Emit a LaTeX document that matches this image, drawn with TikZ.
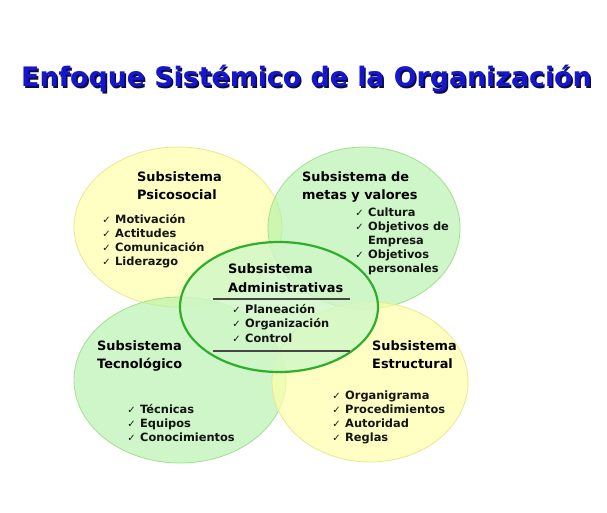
\documentclass[tikz,border=0pt]{standalone}
\usepackage{fontspec}
\setmainfont{DejaVu Sans}
\newfontfamily\checkfont{DejaVu Sans}
\definecolor{titleblue}{RGB}{22,22,205}
\definecolor{titleshade}{RGB}{10,10,70}
\definecolor{yelfill}{RGB}{255,255,170}
\definecolor{yelline}{RGB}{232,232,140}
\definecolor{grnfill}{RGB}{175,240,165}
\definecolor{grnline}{RGB}{160,225,140}
\definecolor{ctrfill}{RGB}{208,247,198}
\definecolor{ctrline}{RGB}{45,175,45}
\definecolor{rulegray}{RGB}{70,70,70}
\newcommand{\chk}{\llap{{\checkfont\fontsize{10}{10}\selectfont ✓}\hspace{4.5pt}}}
\newcommand{\shadowed}[1]{\rlap{\raisebox{-1.6pt}{\kern1.6pt\color{titleshade}#1}}#1}
\tikzset{
  yelblob/.style={fill=yelfill,fill opacity=0.7,draw=yelline,line width=0.8pt},
  grnblob/.style={fill=grnfill,fill opacity=0.6,draw=grnline,line width=0.8pt},
  ctrblob/.style={fill=ctrfill,fill opacity=0.82,draw=ctrline,line width=2.2pt},
  head/.style={anchor=base west,inner sep=0pt,font=\fontsize{12.9}{16}\selectfont\bfseries,text=black},
  item/.style={anchor=base west,inner sep=0pt,font=\fontsize{11.4}{14}\selectfont\bfseries,text=black!92},
}
\begin{document}
\begin{tikzpicture}[x=1pt,y=-1pt]
				\useasboundingbox (0,0) rectangle (607,513);
				\fill[white] (0,0) rectangle (607,513);
				\coordinate (PS) at (178,227);
				\coordinate (MV) at (364,228);
				\coordinate (TE) at (180,380);
				\coordinate (ES) at (370,382);
				\coordinate (AD) at (279,307);
				% title with its shadow
				\node[anchor=base west,inner sep=0pt,text=titleblue,font=\fontsize{26.8}{30}\selectfont\bfseries] (title) at (21,87) {\shadowed{Enfoque Sistémico de la Organización}};
				% the five subsystems
				\draw [yelblob] (PS) ellipse [x radius=104,y radius=80];
				\draw [grnblob] (MV) ellipse [x radius=96,y radius=81];
				\draw [grnblob] (TE) ellipse [x radius=106,y radius=83];
				\draw [yelblob] (ES) ellipse [x radius=98,y radius=80];
				\draw [ctrblob] (AD) ellipse [x radius=99,y radius=65];
				% psicosocial
				\node[head] (ps1) at (137,182) {Subsistema};
				\node[head] (ps2) at (137,199) {Psicosocial};
				\foreach \t [count=\i] in {Motivación,Actitudes,Comunicación,Liderazgo}
					\node[item] (psi\i) at (115,223+14*\i-14) {\chk\t};
				% metas y valores
				\node[head] (mv1) at (302,182) {Subsistema de};
				\node[head] (mv2) at (302,199) {metas y valores};
				\node[item] (mvi1) at (368,216) {\chk Cultura};
				\node[item] (mvi2) at (368,230) {\chk Objetivos de};
				\node[item] (mvi3) at (368,244) {Empresa};
				\node[item] (mvi4) at (368,258) {\chk Objetivos};
				\node[item] (mvi5) at (368,272) {personales};
				% administrativas
				\node[head] (ad1) at (228,273) {Subsistema};
				\node[head] (ad2) at (228,292) {Administrativas};
				\coordinate (r1a) at (213,299);
				\coordinate (r1b) at (350,299);
				\coordinate (r2a) at (213,351);
				\coordinate (r2b) at (350,351);
				\draw [rulegray,line width=1.6pt] (r1a) -- (r1b);
				\draw [rulegray,line width=1.6pt] (r2a) -- (r2b);
				\foreach \t [count=\i] in {Planeación,Organización,Control}
					\node[item] (adi\i) at (245,313+14.5*\i-14.5) {\chk\t};
				% tecnologico
				\node[head] (te1) at (97,350) {Subsistema};
				\node[head] (te2) at (97,368) {Tecnológico};
				\foreach \t [count=\i] in {Técnicas,Equipos,Conocimientos}
					\node[item] (tei\i) at (140,413+14*\i-14) {\chk\t};
				% estructural
				\node[head] (es1) at (372,350) {Subsistema};
				\node[head] (es2) at (372,368) {Estructural};
				\foreach \t [count=\i] in {Organigrama,Procedimientos,Autoridad,Reglas}
					\node[item] (esi\i) at (345,399+14*\i-14) {\chk\t};
\end{tikzpicture}
\end{document}
